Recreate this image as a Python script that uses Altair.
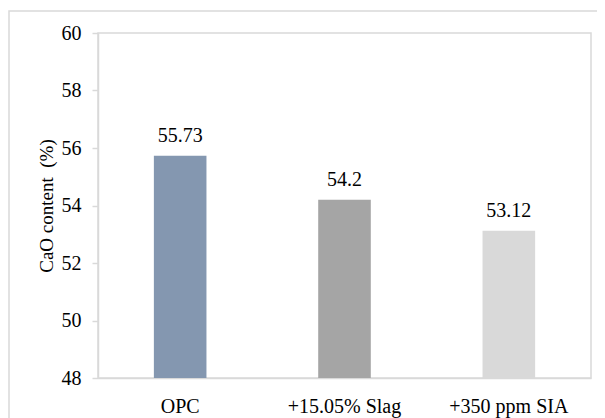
import altair as alt
import pandas as pd

categories = ["OPC", "+15.05% Slag", "+350 ppm SIA"]
values = [55.73, 54.2, 53.12]
value_labels = ["55.73", "54.2", "53.12"]
colors = ["#8497B0", "#A5A5A5", "#D9D9D9"]
y_ticks = [48, 50, 52, 54, 56, 58, 60]

df = pd.DataFrame({"cat": categories, "val": values, "lab": value_labels})
frame_df = pd.DataFrame({"a": [0]})

FONT = "Liberation Serif"
FS = 20
GRAY = "#D9D9D9"

x = alt.X(
    "cat:N", sort=categories, title=None,
    scale=alt.Scale(paddingInner=0.68, paddingOuter=0.34),
    axis=alt.Axis(labelAngle=0, ticks=False, tickSize=0, labelPadding=18,
                  domainColor=GRAY, domainWidth=1.5, labelFont=FONT,
                  labelFontSize=FS, labelColor="black"),
)
y = alt.Y(
    "val:Q", title="CaO content\u00a0 (%)",
    scale=alt.Scale(domain=[48, 60], nice=False, zero=False),
    axis=alt.Axis(values=y_ticks, grid=False, tickSize=6, tickColor=GRAY,
                  tickWidth=1.5, domainColor=GRAY, domainWidth=1.5,
                  labelPadding=11, labelFont=FONT, labelFontSize=FS,
                  labelColor="black", titleFont=FONT, titleFontSize=19,
                  titleFontWeight="normal", titleColor="black", titlePadding=5),
)

bars = alt.Chart(df).mark_bar().encode(
    x=x, y=y, y2=alt.datum(48),
    color=alt.Color("cat:N", scale=alt.Scale(domain=categories, range=colors), legend=None),
)

text = alt.Chart(df).mark_text(dy=-14, baseline="alphabetic", font=FONT,
                               fontSize=FS, color="black").encode(
    x=x, y=y, text="lab:N"
)

frame = alt.Chart(frame_df).mark_rect(filled=False, stroke=GRAY, strokeWidth=1.5).encode(
    x=alt.value(-89), x2=alt.value(700), y=alt.value(-22), y2=alt.value(700)
)

chart = alt.layer(frame, bars, text).properties(
    width=493, height=345,
    autosize=alt.AutoSizeParams(type="none"),
    padding={"left": 90, "top": 25, "right": 6, "bottom": 40},
).configure_view(stroke=GRAY, strokeWidth=1.5)

chart.save("out.html", embed_options={"renderer": "svg", "actions": False})
